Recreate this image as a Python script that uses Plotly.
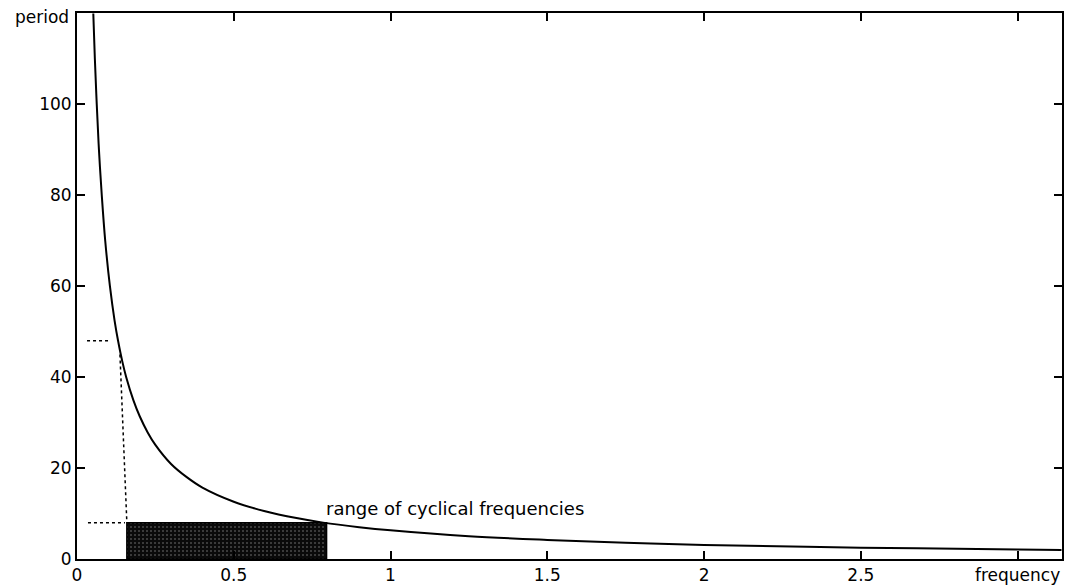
import plotly.graph_objects as go

# Curve: period vs frequency
frequency = [0.052, 0.057, 0.063, 0.070, 0.079, 0.090, 0.105, 0.120, 0.131, 0.145, 0.157,
             0.180, 0.200, 0.225, 0.250, 0.300, 0.350, 0.400, 0.500, 0.600, 0.700,
             0.785, 0.900, 1.000, 1.250, 1.500, 1.750, 2.000, 2.500, 3.000, 3.140]
period = [120.0, 110.0, 100.0, 90.0, 80.0, 70.0, 60.0, 52.4, 48.0, 43.3, 40.0,
          34.9, 31.4, 27.9, 25.1, 20.9, 18.0, 15.7, 12.6, 10.5, 9.0,
          8.0, 7.0, 6.3, 5.0, 4.2, 3.6, 3.1, 2.5, 2.1, 2.0]

# Shaded band: range of cyclical frequencies
band_x = [0.159, 0.159, 0.796, 0.796, 0.159]
band_y = [0, 8, 8, 0, 0]

# Dotted guide lines
guide_top_x = [0.032, 0.105]
guide_top_y = [48, 48]
guide_low_x = [0.035, 0.153]
guide_low_y = [8, 8]
guide_vert_x = [0.137, 0.159]
guide_vert_y = [45, 8]

x_tickvals = [0, 0.5, 1, 1.5, 2, 2.5, 3]
x_ticktext = ["0", "0.5", "1", "1.5", "2", "2.5", "frequency"]
y_tickvals = [0, 20, 40, 60, 80, 100, 120]
y_ticktext = ["0", "20", "40", "60", "80", "100", ""]
y_axis_label = "period"

label_text = "range of cyclical frequencies"
label_x, label_y = 1.207, 11.2

FONT = "DejaVu Sans"

fig = go.Figure()
fig.add_trace(go.Scatter(
    x=band_x, y=band_y, mode="lines", fill="toself",
    fillcolor="#111111",
    fillpattern=dict(shape=".", bgcolor="#0a0a0a", fgcolor="#8a8a8a", size=4, solidity=0.2),
    line=dict(color="black", width=1.5), hoverinfo="skip", showlegend=False))
for gx, gy in [(guide_top_x, guide_top_y), (guide_low_x, guide_low_y), (guide_vert_x, guide_vert_y)]:
    fig.add_trace(go.Scatter(x=gx, y=gy, mode="lines",
                             line=dict(color="black", width=1.5, dash="dot"),
                             showlegend=False, hoverinfo="skip"))
fig.add_trace(go.Scatter(x=frequency, y=period, mode="lines",
                         line=dict(color="black", width=2, shape="spline"),
                         showlegend=False))

fig.add_annotation(x=label_x, y=label_y, text=label_text, showarrow=False,
                   font=dict(family=FONT, size=18, color="black"),
                   xanchor="center", yanchor="middle")
fig.add_annotation(x=0, y=1, xref="paper", yref="paper", text=y_axis_label,
                   showarrow=False, xanchor="right", yanchor="middle",
                   xshift=-6, yshift=-4,
                   font=dict(family=FONT, size=17, color="black"))

axis_common = dict(showgrid=False, zeroline=False, showline=True, linecolor="black",
                   linewidth=2, mirror="ticks", ticks="inside", ticklen=8,
                   tickwidth=1.5, tickcolor="black", automargin=False,
                   ticklabeloverflow="allow",
                   tickfont=dict(family=FONT, size=17, color="black"))
fig.update_xaxes(range=[0, 3.1416], tickmode="array", tickvals=x_tickvals,
                 ticktext=x_ticktext, **axis_common)
fig.update_yaxes(range=[0, 120.1], tickmode="array", tickvals=y_tickvals,
                 ticktext=y_ticktext, **axis_common)

# page body has an 8px margin, so the figure is sized/offset to fit the window
fig.update_layout(width=1071, height=578, plot_bgcolor="white", paper_bgcolor="white",
                  margin=dict(l=69, r=17, t=5, b=27, autoexpand=False), showlegend=False)

fig.write_html("out.html")
